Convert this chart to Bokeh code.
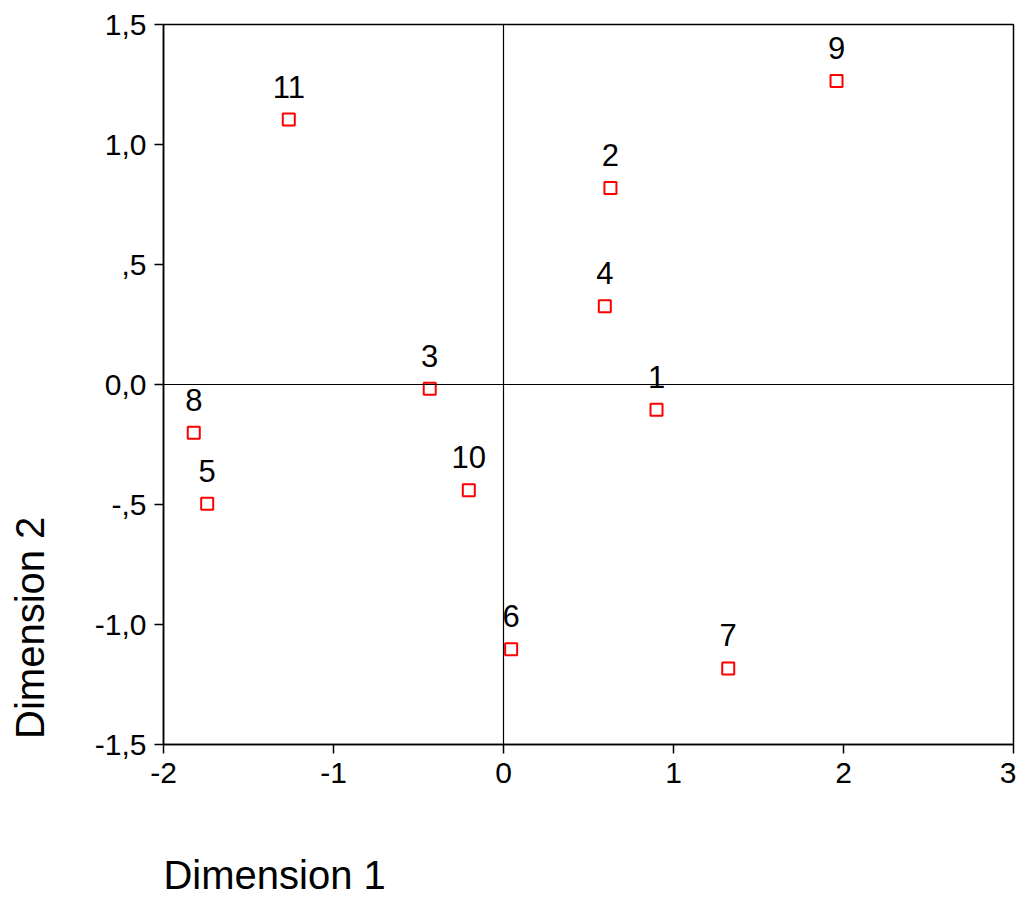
from bokeh.plotting import figure
from bokeh.models import ColumnDataSource, LabelSet, Span, FixedTicker
from bokeh.core.properties import value
from bokeh.embed import file_html
from bokeh.resources import INLINE

ids = ["1", "2", "3", "4", "5", "6", "7", "8", "9", "10", "11"]
dim1 = [0.900, 0.629, -0.434, 0.596, -1.743, 0.045, 1.322, -1.822, 1.959, -0.204, -1.263]
dim2 = [-0.105, 0.819, -0.018, 0.326, -0.497, -1.103, -1.183, -0.201, 1.265, -0.441, 1.104]

x_ticks = [-2, -1, 0, 1, 2, 3]
x_tick_labels = ["-2", "-1", "0", "1", "2", "3"]
y_ticks = [-1.5, -1.0, -0.5, 0.0, 0.5, 1.0, 1.5]
y_tick_labels = ["-1,5", "-1,0", "-,5", "0,0", ",5", "1,0", "1,5"]
x_title = "Dimension 1"
y_title = "Dimension 2"

FONT = "Liberation Sans"
NB = "\u00a0"

p = figure(width=1016, height=899, x_range=(-2, 3), y_range=(-1.5, 1.5),
           output_backend="svg", toolbar_location=None,
           min_border_left=163, min_border_right=3, min_border_top=24, min_border_bottom=154)
p.xgrid.visible = False
p.ygrid.visible = False
p.background_fill_color = "white"
p.border_fill_color = "white"
p.outline_line_color = "black"
p.outline_line_width = 1.5

p.xaxis.ticker = FixedTicker(ticks=x_ticks)
p.xaxis.major_label_overrides = {t: l for t, l in zip(x_ticks, x_tick_labels)}
p.yaxis.ticker = FixedTicker(ticks=y_ticks)
p.yaxis.major_label_overrides = {t: l for t, l in zip(y_ticks, y_tick_labels)}
for ax in (p.xaxis, p.yaxis):
    ax.axis_line_color = "black"
    ax.axis_line_width = 1.5
    ax.major_tick_line_color = "black"
    ax.major_tick_line_width = 1.5
    ax.major_tick_out = 9
    ax.major_tick_in = 0
    ax.minor_tick_line_color = None
    ax.major_label_text_font = FONT
    ax.major_label_text_font_size = "30px"
    ax.major_label_text_color = "black"
    ax.axis_label_text_font = FONT
    ax.axis_label_text_font_size = "40px"
    ax.axis_label_text_font_style = "normal"
    ax.axis_label_text_color = "black"
    ax.axis_label_align = "start"
p.xaxis.major_label_standoff = 9
p.yaxis.major_label_standoff = 8
# the label is centred on the axis start; leading non-breaking padding shifts the visible words
p.xaxis.axis_label = NB * 20 + x_title
p.yaxis.axis_label = NB * 21 + y_title
p.xaxis.axis_label_standoff = 67
p.yaxis.axis_label_standoff = 40

p.add_layout(Span(location=0, dimension="width", line_color="black", line_width=1.2))
p.add_layout(Span(location=0, dimension="height", line_color="black", line_width=1.2))

src = ColumnDataSource(dict(x=dim1, y=dim2, t=ids))
p.scatter("x", "y", source=src, marker="square", size=12, fill_color="white",
          line_color="red", line_width=2)
p.add_layout(LabelSet(x="x", y="y", text="t", source=src, y_offset=22,
                      text_align="center", text_baseline="alphabetic",
                      text_font=value(FONT), text_font_size=value("31px"),
                      text_color="black"))

open("out.html", "w").write(file_html(p, INLINE))
